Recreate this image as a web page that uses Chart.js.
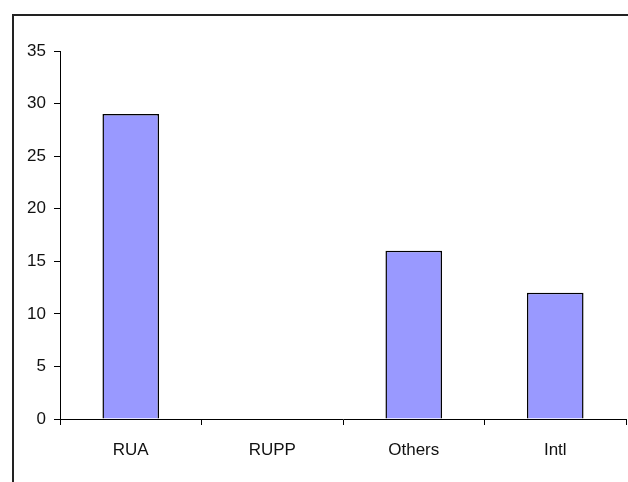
<!DOCTYPE html>
<html>
<head>
<meta charset="utf-8">
<script src="https://cdn.jsdelivr.net/npm/chart.js@4"></script>
<style>
  html, body { margin: 0; padding: 0; background: #fff; }
  #wrap { position: relative; width: 628px; height: 482px; overflow: hidden; }
  #frame {
    position: absolute; left: 12px; top: 14px; width: 700px; height: 600px;
    border-left: 2px solid #222; border-top: 2px solid #222; box-sizing: border-box;
  }
  canvas { position: absolute; left: 0; top: 0; }
</style>
</head>
<body>
<div id="wrap">
  <div id="frame"></div>
  <canvas id="chart" width="628" height="482"></canvas>
</div>
<script>
// dados do gráfico
const CATEGORIES = ['RUA', 'RUPP', 'Others', 'Intl'];
const VALUES = [29, 0, 16, 12];
const Y_MAX = 35;
const Y_STEP = 5;

const FONT = { family: '"Liberation Sans", Arial', size: 17 };

const ctx = document.getElementById('chart');
new Chart(ctx, {
    type: 'bar',
    data: {
        labels: CATEGORIES,
        datasets: [{
            data: VALUES,
            backgroundColor: '#9999ff',
            borderColor: '#000',
            borderWidth: 1.5,
            barPercentage: 0.8,
            categoryPercentage: 0.5
        }]
    },
    options: {
        responsive: false,
        animation: false,
        layout: { padding: { top: 51, right: 2, bottom: 0, left: 0 } },
        plugins: { legend: { display: false }, tooltip: { enabled: false } },
        scales: {
            x: {
                grid: { drawOnChartArea: false, drawTicks: true, tickLength: 6, color: '#000', offset: true },
                border: { color: '#000', width: 1 },
                ticks: { color: '#111', padding: 15, font: FONT },
                afterFit: (s) => { s.height = 63; }
            },
            y: {
                min: 0,
                max: Y_MAX,
                grid: { drawOnChartArea: false, drawTicks: true, tickLength: 6, color: '#000' },
                border: { color: '#000', width: 1 },
                ticks: { stepSize: Y_STEP, color: '#111', padding: 8, font: FONT },
                afterFit: (s) => { s.width = 60; }
            }
        }
    }
});
</script>
</body>
</html>
